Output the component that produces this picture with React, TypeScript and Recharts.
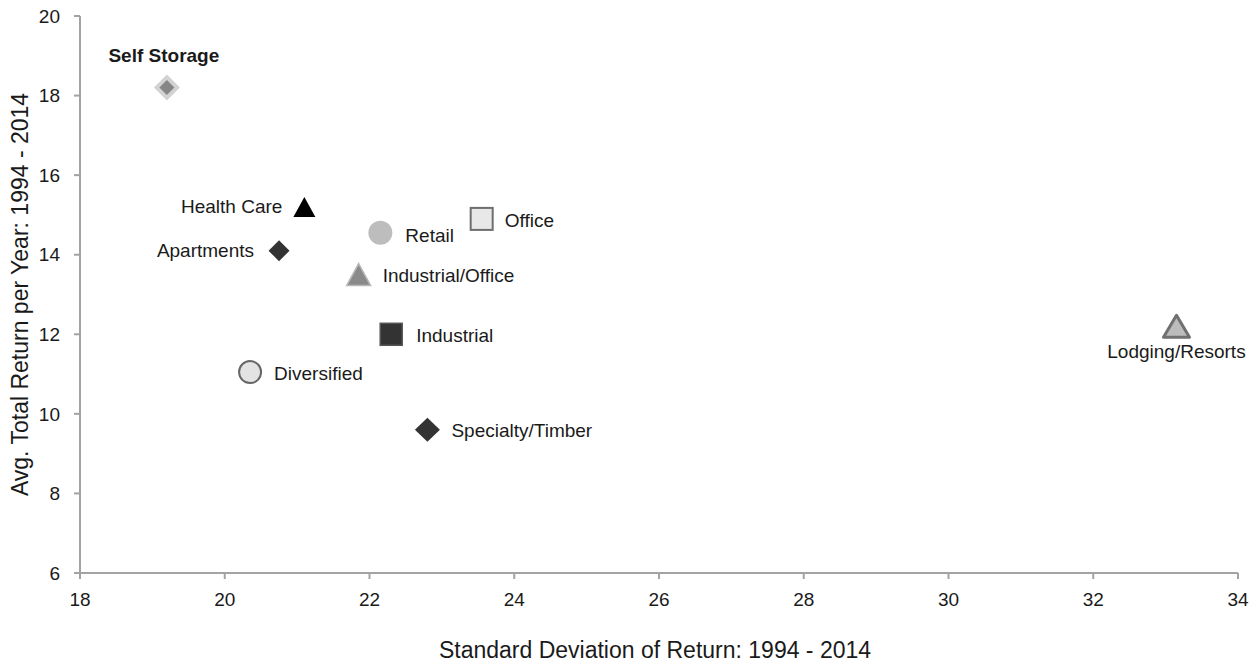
import React from "react";
import { ScatterChart, Scatter, XAxis, YAxis } from "recharts";

// REIT sectors, 1994 - 2014
const sectors = [
    "Self Storage",
    "Health Care",
    "Apartments",
    "Retail",
    "Office",
    "Industrial/Office",
    "Industrial",
    "Diversified",
    "Specialty/Timber",
    "Lodging/Resorts",
];
const stdDev = [19.2, 21.1, 20.75, 22.15, 23.55, 21.85, 22.3, 20.35, 22.8, 33.15];
const avgReturn = [18.2, 15.2, 14.1, 14.55, 14.9, 13.5, 12.0, 11.05, 9.6, 12.2];

const xTicks = [18, 20, 22, 24, 26, 28, 30, 32, 34];
const yTicks = [6, 8, 10, 12, 14, 16, 18, 20];

const FONT = '"Liberation Sans", Arial, Helvetica, sans-serif';
const TEXT = "#1a1a1a";
const AXIS = "#a3a3a3";

const points = sectors.map((name, i) => ({ name, x: stdDev[i], y: avgReturn[i] }));

const diamond = (cx: number, cy: number, w: number, h: number) =>
    `${cx},${cy - h / 2} ${cx + w / 2},${cy} ${cx},${cy + h / 2} ${cx - w / 2},${cy}`;

const triangle = (cx: number, cy: number, w: number, h: number) =>
    `${cx},${cy - h / 2} ${cx + w / 2},${cy + h / 2} ${cx - w / 2},${cy + h / 2}`;

const labelStyle = { fontFamily: FONT, fontSize: 19, fill: TEXT };

const renderPoint = (props: any) => {
    const { cx, cy, payload } = props;
    const name: string = payload.name;
    let marker: React.ReactNode = null;
    let label: React.ReactNode = null;

    switch (name) {
        case "Self Storage":
            marker = (
                <g>
                    <polygon points={diamond(cx, cy, 26, 26)} fill="#d2d2d2" />
                    <polygon points={diamond(cx, cy, 15, 15)} fill="#868686" />
                </g>
            );
            label = (
                <text x={cx - 3} y={cy - 26} textAnchor="middle" {...labelStyle} fontWeight="bold">
                    {name}
                </text>
            );
            break;
        case "Health Care":
            marker = <polygon points={triangle(cx, cy, 22, 20)} fill="#000" />;
            label = (
                <text x={cx - 22} y={cy} textAnchor="end" dominantBaseline="central" {...labelStyle}>
                    {name}
                </text>
            );
            break;
        case "Apartments":
            marker = <polygon points={diamond(cx, cy, 21, 21)} fill="#333" />;
            label = (
                <text x={cx - 25} y={cy} textAnchor="end" dominantBaseline="central" {...labelStyle}>
                    {name}
                </text>
            );
            break;
        case "Retail":
            marker = <circle cx={cx} cy={cy} r={12} fill="#bdbdbd" />;
            label = (
                <text x={cx + 25} y={cy + 3} dominantBaseline="central" {...labelStyle}>
                    {name}
                </text>
            );
            break;
        case "Office":
            marker = (
                <rect x={cx - 11} y={cy - 11} width={22} height={22} fill="#e8e8e8" stroke="#6e6e6e" strokeWidth={2} />
            );
            label = (
                <text x={cx + 23} y={cy + 2} dominantBaseline="central" {...labelStyle}>
                    {name}
                </text>
            );
            break;
        case "Industrial/Office":
            marker = (
                <polygon points={triangle(cx, cy, 24, 22)} fill="#8a8a8a" stroke="#b8b8b8" strokeWidth={1.5} />
            );
            label = (
                <text x={cx + 24} y={cy + 1} dominantBaseline="central" {...labelStyle}>
                    {name}
                </text>
            );
            break;
        case "Industrial":
            marker = (
                <rect x={cx - 11} y={cy - 11} width={22} height={22} fill="#333" stroke="#555" strokeWidth={1.5} />
            );
            label = (
                <text x={cx + 25} y={cy + 1} dominantBaseline="central" {...labelStyle}>
                    {name}
                </text>
            );
            break;
        case "Diversified":
            marker = <circle cx={cx} cy={cy} r={11} fill="#e3e3e3" stroke="#666" strokeWidth={2} />;
            label = (
                <text x={cx + 24} y={cy + 1} dominantBaseline="central" {...labelStyle}>
                    {name}
                </text>
            );
            break;
        case "Specialty/Timber":
            marker = <polygon points={diamond(cx, cy, 25, 24)} fill="#333" />;
            label = (
                <text x={cx + 24} y={cy + 1} dominantBaseline="central" {...labelStyle}>
                    {name}
                </text>
            );
            break;
        case "Lodging/Resorts":
            marker = (
                <polygon points={triangle(cx, cy, 26, 22)} fill="#bcbcbc" stroke="#707070" strokeWidth={3} strokeLinejoin="round" />
            );
            label = (
                <text x={cx} y={cy + 32} textAnchor="middle" {...labelStyle}>
                    {name}
                </text>
            );
            break;
    }

    return (
        <g>
            {marker}
            {label}
        </g>
    );
};

const renderXTitle = (props: any) => {
    const vb = props.viewBox || { x: 80, width: 1158 };
    return (
        <text x={vb.x + vb.width / 2 - 4} y={650} textAnchor="middle" dominantBaseline="central" fontFamily={FONT} fontSize={23} fill={TEXT}>
            Standard Deviation of Return: 1994 - 2014
        </text>
    );
};

const renderYTitle = (props: any) => {
    const vb = props.viewBox || { y: 16, height: 557 };
    const cy = vb.y + vb.height / 2;
    return (
        <text
            x={20}
            y={cy}
            transform={`rotate(-90 20 ${cy})`}
            textAnchor="middle"
            dominantBaseline="central"
            fontFamily={FONT}
            fontSize={23}
            fill={TEXT}
        >
            Avg. Total Return per Year: 1994 - 2014
        </text>
    );
};

export default function App() {
    return (
        <div style={{ position: "absolute", left: 0, top: 0, width: 1258, height: 666, background: "#fff" }}>
            <ScatterChart width={1258} height={666} margin={{ top: 16, right: 20, bottom: 63, left: 0 }}>
                <XAxis
                    type="number"
                    dataKey="x"
                    domain={[18, 34]}
                    ticks={xTicks}
                    interval={0}
                    height={30}
                    stroke={AXIS}
                    strokeWidth={2}
                    tickSize={6}
                    tickMargin={14}
                    tick={{ fontFamily: FONT, fontSize: 19, fill: TEXT }}
                    label={{ value: "Standard Deviation of Return: 1994 - 2014", content: renderXTitle }}
                />
                <YAxis
                    type="number"
                    dataKey="y"
                    domain={[6, 20]}
                    ticks={yTicks}
                    interval={0}
                    width={80}
                    stroke={AXIS}
                    strokeWidth={2}
                    tickSize={6}
                    tickMargin={14}
                    tick={{ fontFamily: FONT, fontSize: 19, fill: TEXT }}
                    label={{ value: "Avg. Total Return per Year: 1994 - 2014", content: renderYTitle }}
                />
                <Scatter data={points} shape={renderPoint} isAnimationActive={false} />
            </ScatterChart>
        </div>
    );
}
